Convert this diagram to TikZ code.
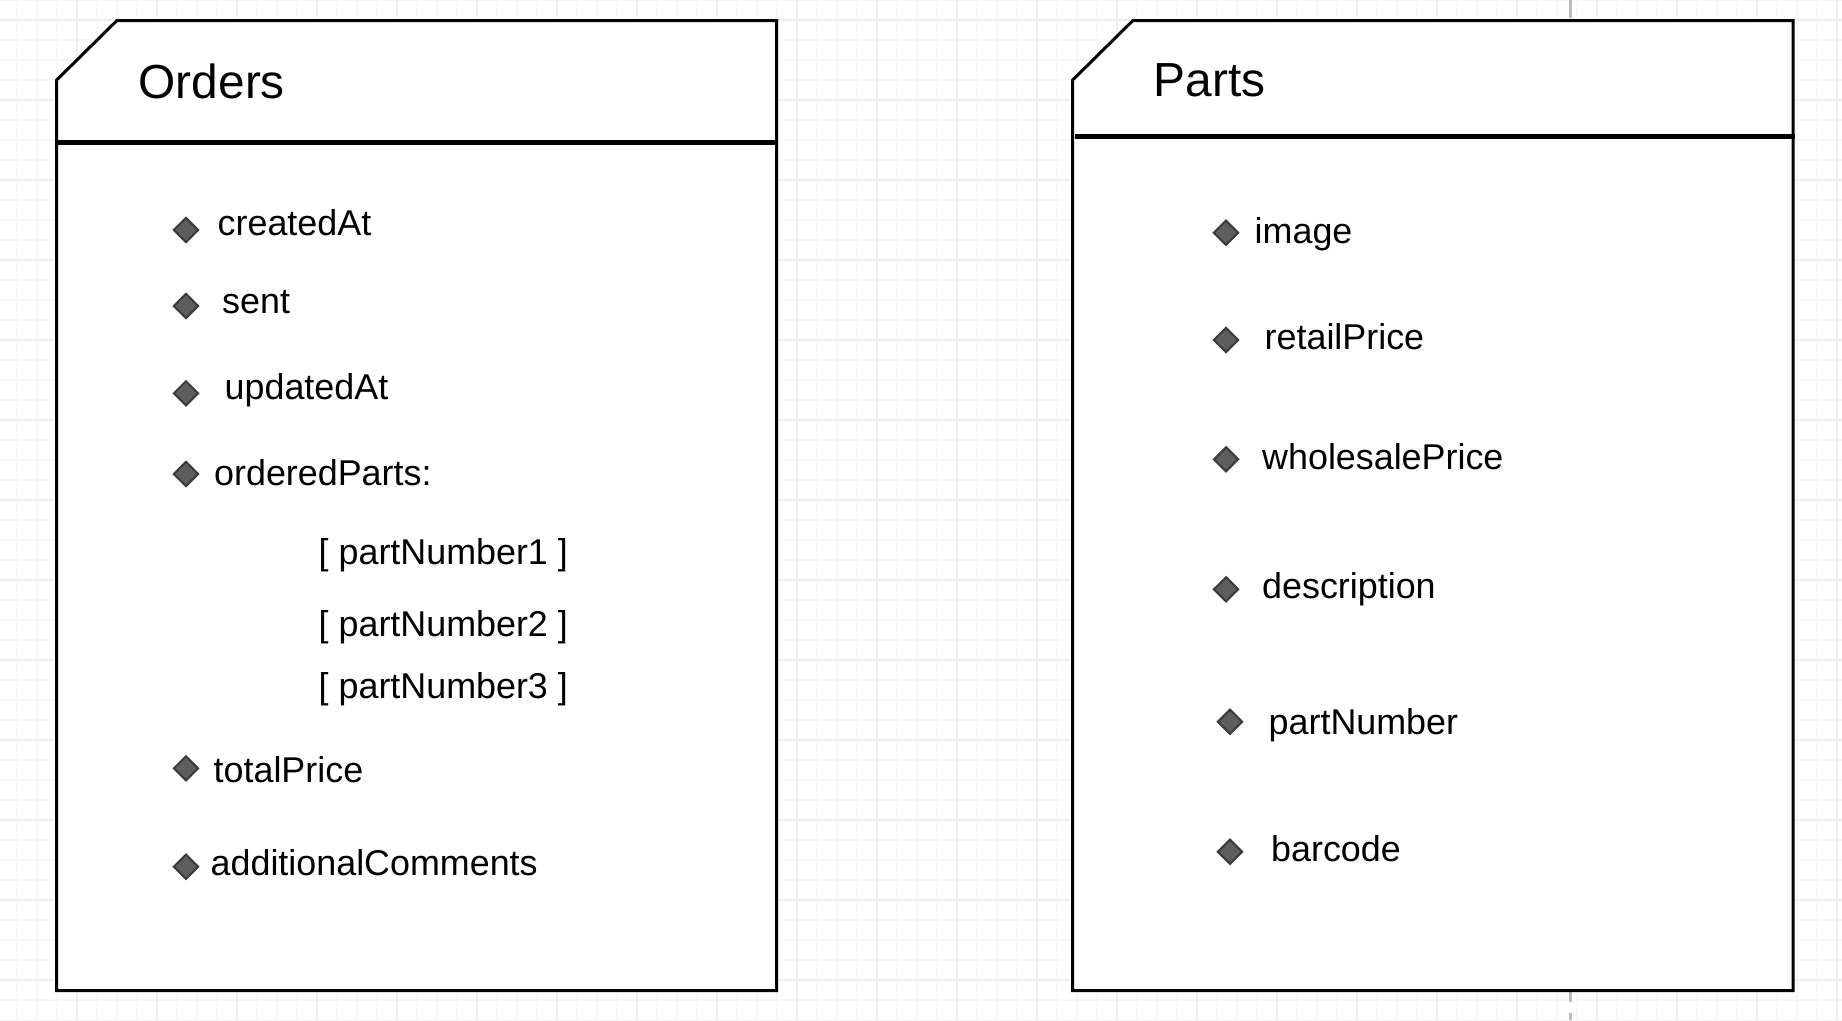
\documentclass[tikz,border=0pt]{standalone}
\usepackage{fontspec}
\setmainfont{Liberation Sans}
\usetikzlibrary{shapes.geometric}
\definecolor{gridminor}{HTML}{F8F8F8}
\definecolor{gridmajor}{HTML}{EFEFEF}
\definecolor{dashgray}{HTML}{BDBDBD}
\definecolor{bulletfill}{HTML}{5E5E5E}
\definecolor{bulletdraw}{HTML}{3C3C3C}
\tikzset{
  minorline/.style={gridminor, line width=0.5pt},
  majorline/.style={gridmajor, line width=0.6pt},
  classbox/.style={draw=black, fill=white, line width=0.85pt, line join=miter},
  sepline/.style={draw=black, line width=1.3pt},
  bullet/.style={diamond, draw=bulletdraw, fill=bulletfill, line width=0.6pt, minimum size=0.25cm, inner sep=0pt},
  attr/.style={anchor=base west, inner sep=0pt, font=\fontsize{10.2pt}{12pt}\selectfont},
  title/.style={anchor=base west, inner sep=0pt, font=\fontsize{13.6pt}{16pt}\selectfont}
}
\begin{document}
\begin{tikzpicture}[x=0.01cm, y=-0.01cm]
\useasboundingbox (0,0) rectangle (1842,1020);
\fill[white] (0,0) rectangle (1842,1020);
% grid
\foreach \gx in {16.7,36.7,...,1842} {\draw[minorline] (\gx,0) -- (\gx,1020);}
\foreach \gy in {0,20,...,1020} {\draw[minorline] (0,\gy) -- (1842,\gy);}
\foreach \gx in {76.7,156.7,...,1842} {\draw[majorline] (\gx,0) -- (\gx,1020);}
\foreach \gy in {20,100,...,1020} {\draw[majorline] (0,\gy) -- (1842,\gy);}
% dashed guide
\coordinate (gtop) at (1570.7,0);
\coordinate (gbot) at (1570.7,1020);
\draw[dashgray, line width=1pt, dash pattern=on 5pt off 3pt] (gtop) -- (gbot);

% Orders box
\draw[classbox] (56.7,80) -- (116.7,20.7) -- (776.7,20.7) -- (776.7,990.7) -- (56.7,990.7) -- cycle;
\coordinate (osepL) at (56.7,142.7);
\coordinate (osepR) at (776.7,142.7);
\draw[sepline] (osepL) -- (osepR);
\node[title] (otitle) at (138,98.3) {Orders};

\node[bullet] (ob1) at (186,230) {};
\node[attr] (oa1) at (217,235) {createdAt};
\node[bullet] (ob2) at (186,306) {};
\node[attr] (oa2) at (221.5,313.3) {sent};
\node[bullet] (ob3) at (186,393.3) {};
\node[attr] (oa3) at (224,399.3) {updatedAt};
\node[bullet] (ob4) at (186,474) {};
\node[attr] (oa4) at (213.5,485) {orderedParts:};
\node[attr] (op1) at (318,564) {[ partNumber1 ]};
\node[attr] (op2) at (318,636) {[ partNumber2 ]};
\node[attr] (op3) at (318,698.3) {[ partNumber3 ]};
\node[bullet] (ob5) at (186,768.3) {};
\node[attr] (oa5) at (213,782.7) {totalPrice};
\node[bullet] (ob6) at (186,866.7) {};
\node[attr] (oa6) at (210,875) {additionalComments};

% Parts box
\draw[classbox] (1072.7,80) -- (1132.7,20.7) -- (1793,20.7) -- (1793,990.7) -- (1072.7,990.7) -- cycle;
\coordinate (psepL) at (1075,136.7);
\coordinate (psepR) at (1795,136.7);
\draw[sepline] (psepL) -- (psepR);
\node[title] (ptitle) at (1153,96.7) {Parts};

\node[bullet] (pb1) at (1226,232.7) {};
\node[attr] (pa1) at (1254,243.3) {image};
\node[bullet] (pb2) at (1226,340) {};
\node[attr] (pa2) at (1264,349.3) {retailPrice};
\node[bullet] (pb3) at (1226,459.3) {};
\node[attr] (pa3) at (1261.5,469.3) {wholesalePrice};
\node[bullet] (pb4) at (1226,589.3) {};
\node[attr] (pa4) at (1261.5,598.3) {description};
\node[bullet] (pb5) at (1230,721.7) {};
\node[attr] (pa5) at (1268,734.3) {partNumber};
\node[bullet] (pb6) at (1230,851.7) {};
\node[attr] (pa6) at (1270.5,861.7) {barcode};
\end{tikzpicture}
\end{document}
